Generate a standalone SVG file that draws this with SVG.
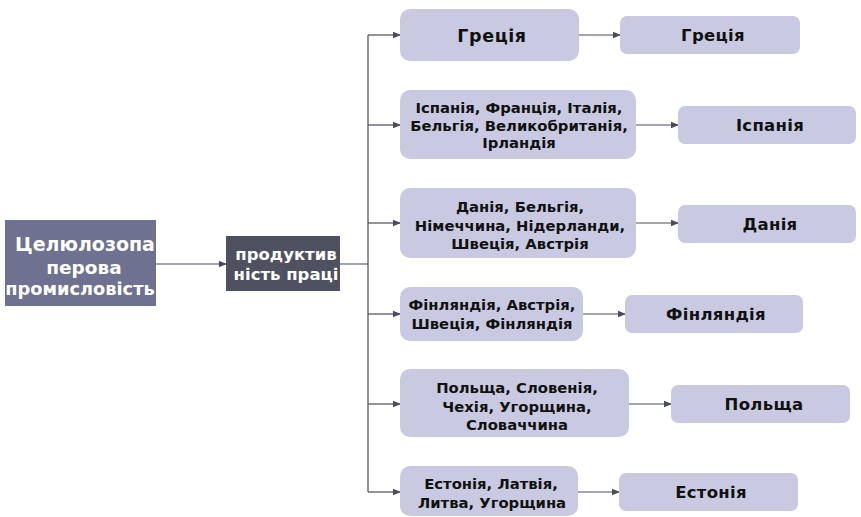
<svg xmlns="http://www.w3.org/2000/svg" width="861" height="517" viewBox="0 0 861 517">
<defs>
<marker id="ah" markerWidth="8" markerHeight="8" refX="7" refY="4" orient="auto" markerUnits="userSpaceOnUse">
<path d="M0,0.8 L8,4 L0,7.2 Z" fill="#4a4b5c"/>
</marker>
<style>
.mid{fill:#c9cae2}
.t{font-family:"DejaVu Sans",Verdana,sans-serif;font-weight:bold;font-size:14.8px;fill:#111;text-anchor:middle}
.r{font-size:16.5px;letter-spacing:0.3px}
.w{font-family:"DejaVu Sans",Verdana,sans-serif;font-weight:bold;fill:#fff;text-anchor:middle}
.c{stroke:#4a4b5c;stroke-width:1.2;fill:none}
.a{stroke:#4a4b5c;stroke-width:1.2;fill:none;marker-end:url(#ah)}
</style>
</defs>
<rect width="861" height="517" fill="#fff"/>
<g id="connectors">
<path class="a" d="M156,264 H226"/>
<path class="c" d="M340,264 H368 M368,35 V492"/>
<path class="a" d="M368,35 H400"/>
<path class="a" d="M368,125 H400"/>
<path class="a" d="M368,223 H400"/>
<path class="a" d="M368,314 H400"/>
<path class="a" d="M368,404 H400"/>
<path class="a" d="M368,492 H400"/>
<path class="a" d="M579,35 H620"/>
<path class="a" d="M636,125 H678"/>
<path class="a" d="M636,223 H678"/>
<path class="a" d="M583,314 H625"/>
<path class="a" d="M629,404 H671"/>
<path class="a" d="M578,492 H619"/>
</g>
<g id="root">
<rect x="5" y="220" width="151" height="86" fill="#6e7190"/>
<text class="w" font-size="19" x="85" y="251">Целюлозопа</text>
<text class="w" font-size="18.5" x="84" y="274">перова</text>
<text class="w" font-size="17.8" x="80" y="295">промисловість</text>
</g>
<g id="productivity">
<rect x="226" y="236" width="114" height="55" fill="#4f5060"/>
<text class="w" font-size="16.5" x="286" y="260">продуктив</text>
<text class="w" font-size="16.5" x="286" y="280">ність праці</text>
</g>
<g id="m1"><rect class="mid" x="400" y="9" width="179" height="52" rx="10"/>
<text class="t r" x="492" y="42" style="font-size:17.5px;letter-spacing:0.6px">Греція</text></g>
<g id="m2"><rect class="mid" x="400" y="90" width="236" height="69" rx="10"/>
<text class="t" x="519" y="113">Іспанія, Франція, Італія,</text>
<text class="t" x="519" y="131">Бельгія, Великобританія,</text>
<text class="t" x="519" y="148">Ірландія</text></g>
<g id="m3"><rect class="mid" x="400" y="188" width="236" height="70" rx="10"/>
<text class="t" x="520" y="212">Данія, Бельгія,</text>
<text class="t" x="520" y="231">Німеччина, Нідерланди,</text>
<text class="t" x="520" y="249">Швеція, Австрія</text></g>
<g id="m4"><rect class="mid" x="400" y="287" width="183" height="54" rx="10"/>
<text class="t" x="492" y="310">Фінляндія, Австрія,</text>
<text class="t" x="492" y="329">Швеція, Фінляндія</text></g>
<g id="m5"><rect class="mid" x="400" y="369" width="229" height="68" rx="10"/>
<text class="t" x="517" y="393">Польща, Словенія,</text>
<text class="t" x="517" y="412">Чехія, Угорщина,</text>
<text class="t" x="517" y="430">Словаччина</text></g>
<g id="m6"><rect class="mid" x="400" y="466" width="178" height="50" rx="10"/>
<text class="t" x="491" y="489" font-size="15">Естонія, Латвія,</text>
<text class="t" x="492" y="508" font-size="15">Литва, Угорщина</text></g>
<g id="r1"><rect class="mid" x="620" y="16" width="180" height="38" rx="7"/>
<text class="t r" x="713" y="41">Греція</text></g>
<g id="r2"><rect class="mid" x="678" y="106" width="178" height="38" rx="7"/>
<text class="t r" x="770" y="131">Іспанія</text></g>
<g id="r3"><rect class="mid" x="678" y="205" width="178" height="38" rx="7"/>
<text class="t r" x="770" y="230">Данія</text></g>
<g id="r4"><rect class="mid" x="625" y="295" width="178" height="38" rx="7"/>
<text class="t r" x="716" y="320">Фінляндія</text></g>
<g id="r5"><rect class="mid" x="671" y="385" width="179" height="38" rx="7"/>
<text class="t r" x="764" y="410">Польща</text></g>
<g id="r6"><rect class="mid" x="619" y="473" width="179" height="38" rx="7"/>
<text class="t r" x="711" y="498">Естонія</text></g>
</svg>
